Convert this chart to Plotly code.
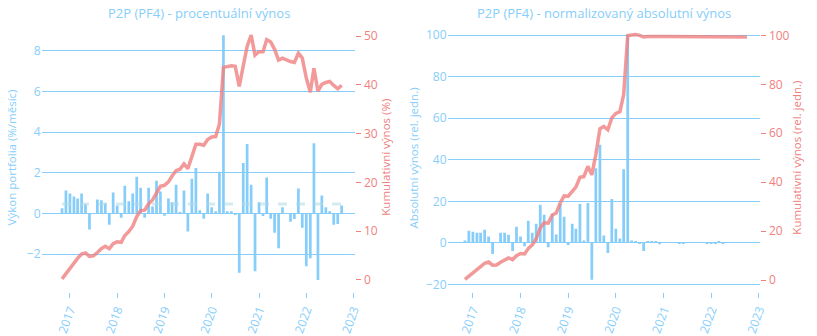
import pandas as pd
import plotly.graph_objects as go

# Monthly observations, Nov 2016 - Oct 2022
months = pd.date_range("2016-11-01", "2022-10-01", freq="MS")

# Monthly portfolio performance (%/month)
pct_return = [
    0.26, 1.13,
    0.98, 0.84, 0.74, 0.98, 0.45, -0.79, 0.00, 0.69, 0.65, 0.50, -0.55, 1.03,
    0.40, -0.21, 1.37, 0.60, 0.98, 1.81, 1.27, -0.21, 1.27, 0.35, 1.61, 1.08,
    -0.11, 0.74, 0.55, 1.42, 0.06, 1.13, -0.89, 1.71, 2.24, 0.16, -0.26, 0.98,
    0.31, 0.11, 2.05, 8.77, 0.11, 0.11, -0.06, -2.91, 2.48, 3.42, 1.42, -2.84,
    0.55, -0.12, 1.77, -0.26, -0.94, -1.71, 0.31, 0.00, -0.40, -0.27, 1.23, -0.70,
    -2.59, -2.20, 3.46, -3.27, 0.89, 0.31, 0.11, -0.55, -0.51, 0.40,
]

# Cumulative return (%)
pct_cumulative = [
    0.2, 1.3,
    2.4, 3.4, 4.4, 5.3, 5.5, 4.8, 4.9, 5.6, 6.4, 6.9, 6.4, 7.4,
    7.8, 7.7, 9.1, 9.9, 11.0, 13.0, 14.2, 14.3, 15.6, 16.4, 18.0, 19.2,
    19.4, 20.1, 21.3, 22.4, 22.7, 23.8, 22.8, 25.1, 27.8, 27.8, 27.6, 28.8,
    29.3, 29.4, 32.0, 43.6, 43.8, 43.9, 43.8, 39.7, 43.9, 47.9, 50.2, 46.1,
    46.8, 46.8, 49.3, 48.8, 47.3, 45.1, 45.5, 45.1, 44.8, 44.6, 46.5, 45.5,
    41.4, 38.5, 43.4, 38.7, 40.1, 40.5, 40.7, 39.9, 39.2, 39.9,
]

# Normalized absolute monthly return (rel. units)
abs_return = [
    1.1, 5.8,
    5.3, 4.8, 4.8, 6.3, 3.0, -5.4, 0.0, 4.8, 4.8, 3.9, -4.0, 7.7,
    3.0, -1.6, 10.6, 4.9, 9.2, 18.3, 13.5, -2.1, 13.9, 4.0, 18.7, 12.5,
    -1.1, 9.2, 6.8, 18.7, 1.1, 19.2, -17.8, 35.9, 47.3, 3.5, -4.9, 21.1,
    6.8, 2.1, 35.4, 100.0, 1.1, 0.6, -0.1, -4.0, 0.6, 0.6, 0.5, -0.7,
    0.1, -0.03, 0.2, -0.05, -0.15, -0.25, 0.05, 0.0, -0.07, -0.05, 0.2, -0.1,
    -0.35, -0.3, 0.45, -0.6, 0.12, 0.05, 0.02, -0.08, -0.07, 0.06,
]

# Normalized cumulative absolute return (rel. units)
abs_cumulative = [
    0.3, 1.7,
    3.2, 4.4, 5.5, 6.9, 7.4, 6.1, 6.2, 7.3, 8.4, 9.1, 8.4, 10.0,
    10.9, 10.7, 12.9, 14.4, 16.9, 21.3, 23.4, 23.3, 26.6, 27.4, 31.5, 34.4,
    34.3, 36.2, 38.0, 42.0, 42.3, 46.5, 43.0, 51.4, 61.8, 62.8, 61.4, 66.3,
    68.1, 68.8, 75.8, 99.9, 100.2, 100.3, 100.0, 99.3, 99.5, 99.6, 99.6, 99.5,
    99.5, 99.5, 99.6, 99.5, 99.5, 99.4, 99.4, 99.4, 99.4, 99.4, 99.4, 99.4,
    99.3, 99.3, 99.4, 99.3, 99.3, 99.3, 99.3, 99.3, 99.3, 99.3,
]

avg_return = sum(pct_return) / len(pct_return)

BLUE = "#87CEFA"
CORAL = "#F08080"
FONT = "Open Sans"
W, H = 817, 336
M_T, M_B = 23, 41
PLOT_H = H - M_T - M_B

fig = go.Figure()

# Left panel: percentage return
fig.add_trace(go.Bar(x=months, y=pct_return, marker_color=BLUE, marker_line_width=0,
                     xaxis="x", yaxis="y", showlegend=False))
fig.add_trace(go.Scatter(x=[months[0], months[-1]], y=[avg_return, avg_return], mode="lines",
                         line=dict(color="rgba(173,216,230,0.55)", width=3, dash="dash"),
                         xaxis="x", yaxis="y", showlegend=False))
fig.add_trace(go.Scatter(x=months, y=pct_cumulative, mode="lines",
                         line=dict(color=CORAL, width=3.5), opacity=0.8,
                         xaxis="x", yaxis="y2", showlegend=False))

# Right panel: normalized absolute return
fig.add_trace(go.Bar(x=months, y=abs_return, marker_color=BLUE, marker_line_width=0,
                     xaxis="x2", yaxis="y3", showlegend=False))
fig.add_trace(go.Scatter(x=months, y=abs_cumulative, mode="lines",
                         line=dict(color=CORAL, width=3.5), opacity=0.8,
                         xaxis="x2", yaxis="y4", showlegend=False))

xcommon = dict(type="date", showgrid=False, zeroline=False, showline=False,
               ticks="outside", ticklen=5, tickcolor=BLUE, tickwidth=1,
               tick0="2017-01-01", dtick="M12", tickformat="%Y", tickangle=-70,
               tickfont=dict(color=BLUE, size=12, family=FONT))
left_common = dict(showgrid=True, gridcolor=BLUE, gridwidth=1, zeroline=True,
                   zerolinecolor=BLUE, zerolinewidth=1, showline=False, ticks="",
                   tickfont=dict(color=BLUE, size=12, family=FONT))
right_common = dict(showgrid=False, zeroline=False, showline=False, side="right",
                    ticks="outside", ticklen=5, tickcolor=CORAL, tickwidth=1,
                    tickfont=dict(color=CORAL, size=12, family=FONT))


def side_title(text, xpx, color):
    return dict(text=text, x=xpx / W, y=0.5, xref="paper", yref="paper",
                xanchor="center", yanchor="middle", textangle=-90, showarrow=False,
                font=dict(color=color, size=11.5, family=FONT))


def panel_title(text, x0, x1):
    return dict(text=text, x=(x0 + x1) / 2 / W, y=1 + (M_T - 13) / PLOT_H,
                xref="paper", yref="paper", xanchor="center", yanchor="middle",
                showarrow=False, font=dict(color=BLUE, size=13, family=FONT))


fig.update_layout(
    width=W, height=H,
    margin=dict(l=0, r=0, t=M_T, b=M_B),
    paper_bgcolor="white", plot_bgcolor="white",
    font=dict(family=FONT),
    bargap=0.25,
    xaxis=dict(domain=[42 / W, 359 / W], anchor="y",
               range=["2016-05-27", "2023-01-16"], **xcommon),
    yaxis=dict(anchor="x", range=[-3.86, 9.37], dtick=2, **left_common),
    yaxis2=dict(anchor="x", overlaying="y", range=[-2.5, 52.7], dtick=10, **right_common),
    xaxis2=dict(domain=[452 / W, 768 / W], anchor="y3",
                range=["2016-06-21", "2023-01-13"], **xcommon),
    yaxis3=dict(anchor="x2", range=[-23.7, 105.9], dtick=20, **left_common),
    yaxis4=dict(anchor="x2", overlaying="y3", range=[-4.85, 105.05], dtick=20, **right_common),
    annotations=[
        panel_title("P2P (PF4) - procentuální výnos", 42, 359),
        panel_title("P2P (PF4) - normalizovaný absolutní výnos", 452, 768),
        side_title("Výkon portfolia (%/měsíc)", 12, BLUE),
        side_title("Kumulativní výnos (%)", 389, CORAL),
        side_title("Absolutní výnos (rel. jedn.)", 418, BLUE),
        side_title("Kumulativní výnos (rel. jedn.)", 804, CORAL),
    ],
)

fig.write_html("out.html")
